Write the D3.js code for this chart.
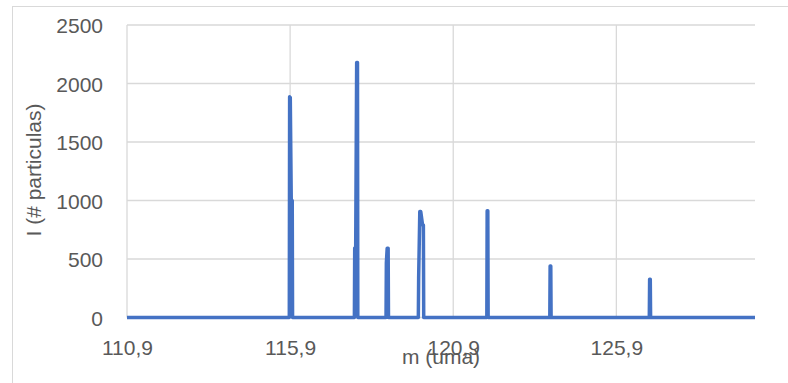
<!DOCTYPE html>
<html>
<head>
<meta charset="utf-8">
<script src="https://cdn.jsdelivr.net/npm/d3@7"></script>
<style>
  html, body { margin: 0; padding: 0; background: #ffffff; }
  svg { display: block; }
</style>
</head>
<body>
<svg id="chart" width="788" height="383"></svg>
<script>
// ---- Data ----
const masses = [110.9,
  115.875, 115.885, 115.905, 115.935, 115.965, 115.975,
  117.87, 117.88, 117.91, 117.94, 117.965, 117.975,
  118.84, 118.85, 118.875, 118.905, 118.915,
  119.83, 119.84, 119.875, 119.905, 119.96, 119.985, 119.995,
  121.93, 121.94, 121.96, 121.97,
  123.86, 123.87, 123.89, 123.90,
  126.91, 126.92, 126.94, 126.95,
  130.15];
const intensities = [0,
  0, 1887, 1880, 1000, 1000, 0,
  0, 595, 595, 2180, 2180, 0,
  0, 466, 592, 592, 0,
  0, 338, 905, 905, 790, 790, 0,
  0, 913, 913, 0,
  0, 440, 440, 0,
  0, 327, 327, 0,
  0];
const xTicks = [110.9, 115.9, 120.9, 125.9];
const yTicks = [0, 500, 1000, 1500, 2000, 2500];
const xTitle = "m (uma)";
const yTitle = "I (# particulas)";

// ---- Layout ----
const svg = d3.select("#chart");
const W = 788, H = 383;
const plot = { left: 127, right: 755, top: 25, bottom: 317.5 };
const font = "'Liberation Sans', Arial, sans-serif";
const textColor = "#595959";
const gridColor = "#d9d9d9";

// outer chart border
svg.append("rect")
  .attr("x", 12.5).attr("y", 6.5)
  .attr("width", W + 10).attr("height", H + 10)
  .attr("fill", "#fff").attr("stroke", gridColor).attr("stroke-width", 1);

const x = d3.scaleLinear().domain([110.9, 130.15]).range([plot.left, plot.right]);
const y = d3.scaleLinear().domain([0, 2500]).range([plot.bottom, plot.top]);

// gridlines
const g = svg.append("g");
g.selectAll("line.h").data(yTicks).enter().append("line")
  .attr("x1", plot.left).attr("x2", plot.right)
  .attr("y1", d => y(d)).attr("y2", d => y(d))
  .attr("stroke", gridColor).attr("stroke-width", 1.3);
g.selectAll("line.v").data(xTicks).enter().append("line")
  .attr("x1", d => x(d)).attr("x2", d => x(d))
  .attr("y1", plot.top).attr("y2", plot.bottom)
  .attr("stroke", gridColor).attr("stroke-width", 1.3);

// axes labels via d3 axes (no domain/ticks lines)
const yAxis = d3.axisLeft(y).tickValues(yTicks).tickSize(0).tickPadding(0)
  .tickFormat(d3.format("d"));
const ya = svg.append("g").attr("transform", `translate(${plot.left - 24},0)`).call(yAxis);
ya.select(".domain").remove();
ya.selectAll("text").attr("font-family", font).attr("font-size", 21)
  .attr("fill", textColor).attr("dy", "0.36em");

const xAxis = d3.axisBottom(x).tickValues(xTicks).tickSize(0).tickPadding(0)
  .tickFormat(d => d3.format(".1f")(d).replace(".", ","));
const xa = svg.append("g").attr("transform", `translate(0,${plot.bottom})`).call(xAxis);
xa.select(".domain").remove();
xa.selectAll("text").attr("font-family", font).attr("font-size", 21)
  .attr("fill", textColor).attr("dy", 0).attr("y", 37);

// axis titles
svg.append("text")
  .attr("x", 441).attr("y", 364)
  .attr("text-anchor", "middle")
  .attr("font-family", font).attr("font-size", 21).attr("fill", textColor)
  .text(xTitle);
svg.append("text")
  .attr("transform", `translate(41,170) rotate(-90)`)
  .attr("text-anchor", "middle")
  .attr("font-family", font).attr("font-size", 21).attr("fill", textColor)
  .text(yTitle);

// series line
const pts = masses.map((m, i) => [m, intensities[i]]);
const line = d3.line().x(d => x(d[0])).y(d => y(d[1]));
svg.append("path")
  .datum(pts)
  .attr("d", line)
  .attr("fill", "none")
  .attr("stroke", "#4472C4")
  .attr("stroke-width", 3.5)
  .attr("stroke-linejoin", "round")
  .attr("stroke-linecap", "butt");
</script>
</body>
</html>
